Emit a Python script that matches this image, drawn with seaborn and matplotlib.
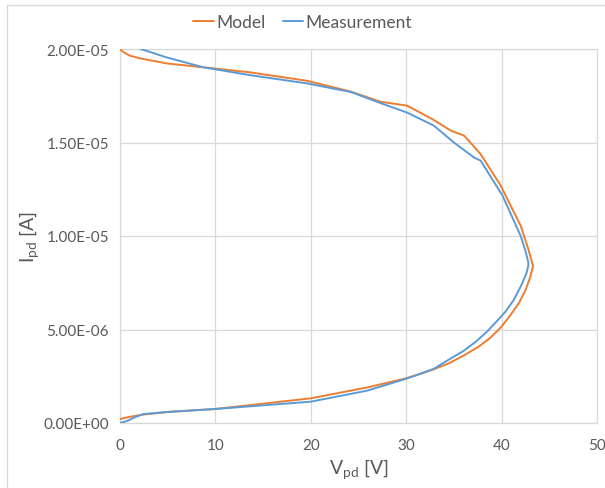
import matplotlib
matplotlib.use("Agg")
import matplotlib.pyplot as plt
import seaborn as sns
import pandas as pd
from matplotlib.lines import Line2D

# Data (V in volts, I in units of 1e-6 A, ordered along the curve)
model_v = [0.0, 0.3, 1.0, 2.1, 4.9, 8.75, 13.65, 19.6, 23.1, 24.2, 27.3, 30.1, 32.7,
           34.7, 36.1, 37.8, 39.9, 42.0, 42.8, 43.3, 43.0, 42.5, 41.8, 40.9, 39.9,
           38.8, 37.5, 36.0, 34.5, 32.9, 31.0, 29.9, 25.9, 20.0, 10.0, 5.0, 2.45,
           1.0, 0.0]
model_i = [20.0, 19.85, 19.65, 19.5, 19.23, 19.02, 18.75, 18.3, 17.86, 17.72, 17.18,
           16.97, 16.26, 15.63, 15.36, 14.38, 12.7, 10.55, 9.3, 8.4, 7.8, 7.1, 6.4,
           5.75, 5.1, 4.55, 4.05, 3.6, 3.2, 2.87, 2.55, 2.38, 1.9, 1.32, 0.75, 0.59,
           0.45, 0.33, 0.21]

meas_v = [2.17, 4.9, 8.75, 13.65, 19.6, 24.2, 27.3, 30.1, 32.9, 35.0, 37.1, 37.8,
          40.1, 42.0, 42.5, 42.8, 42.8, 42.6, 42.1, 41.3, 40.4, 39.6, 38.5, 37.3,
          36.0, 34.5, 32.9, 31.3, 29.9, 25.9, 20.0, 10.0, 5.0, 2.45, 1.5, 0.8, 0.0]
meas_i = [20.0, 19.55, 19.02, 18.6, 18.16, 17.7, 17.11, 16.6, 15.9, 15.0, 14.2, 14.03,
          12.16, 10.0, 9.2, 8.6, 8.4, 8.0, 7.4, 6.6, 5.95, 5.5, 4.9, 4.35, 3.85,
          3.4, 2.9, 2.6, 2.35, 1.73, 1.14, 0.75, 0.59, 0.48, 0.3, 0.12, 0.0]

x_ticks = [0, 10, 20, 30, 40, 50]
y_ticks = [0, 5e-6, 1e-5, 1.5e-5, 2e-5]
y_ticklabels = ["0.00E+00", "5.00E-06", "1.00E-05", "1.50E-05", "2.00E-05"]

orange = "#ED7D31"
blue = "#5B9BD5"
grid_c = "#D9D9D9"
text_c = "#595959"

sns.set_style("white")
plt.rcParams["font.family"] = ["Lato", "DejaVu Sans"]

fig = plt.figure(figsize=(6.05, 4.89), dpi=100)
ax = fig.add_axes([120 / 605, 1 - 424 / 489, (597 - 120) / 605, (424 - 50) / 489])

dm = pd.DataFrame({"V": model_v, "I": [v * 1e-6 for v in model_i]})
dd = pd.DataFrame({"V": meas_v, "I": [v * 1e-6 for v in meas_i]})
sns.lineplot(data=dm, x="V", y="I", sort=False, estimator=None, color=orange, lw=1.4, ax=ax, zorder=3)
sns.lineplot(data=dd, x="V", y="I", sort=False, estimator=None, color=blue, lw=1.4, ax=ax, zorder=3)

ax.set_xlim(0, 50)
ax.set_ylim(0, 2e-5)
ax.set_xticks(x_ticks)
ax.set_yticks(y_ticks)
ax.set_yticklabels(y_ticklabels)
ax.grid(True, color=grid_c, lw=0.9)
for s in ax.spines.values():
    s.set_color(grid_c)
    s.set_linewidth(0.9)
ax.tick_params(colors=text_c, labelsize=11, length=0)
ax.tick_params(axis="y", pad=8)
ax.tick_params(axis="x", pad=11)
ax.set_xlabel(r"V$_{\mathregular{pd}}$ [V]", color=text_c, fontsize=14, labelpad=3)
ax.set_ylabel(r"I$_{\mathregular{pd}}$ [A]", color=text_c, fontsize=14)
ax.yaxis.set_label_coords(-0.163, 0.5)

handles = [Line2D([], [], color=orange, lw=1.4), Line2D([], [], color=blue, lw=1.4)]
fig.legend(handles, ["Model", "Measurement"], loc="center", bbox_to_anchor=(0.5, 1 - 23 / 489),
           ncol=2, frameon=False, fontsize=12.5, handlelength=1.2, handletextpad=0.1,
           columnspacing=1.0, labelcolor=text_c)

# outer chart border (left and top visible)
fig.add_artist(Line2D([7 / 605, 7 / 605], [0, 1 - 6 / 489], color=grid_c, lw=1, transform=fig.transFigure))
fig.add_artist(Line2D([7 / 605, 1], [1 - 6 / 489, 1 - 6 / 489], color=grid_c, lw=1, transform=fig.transFigure))

fig.savefig("out.png", dpi=100)
